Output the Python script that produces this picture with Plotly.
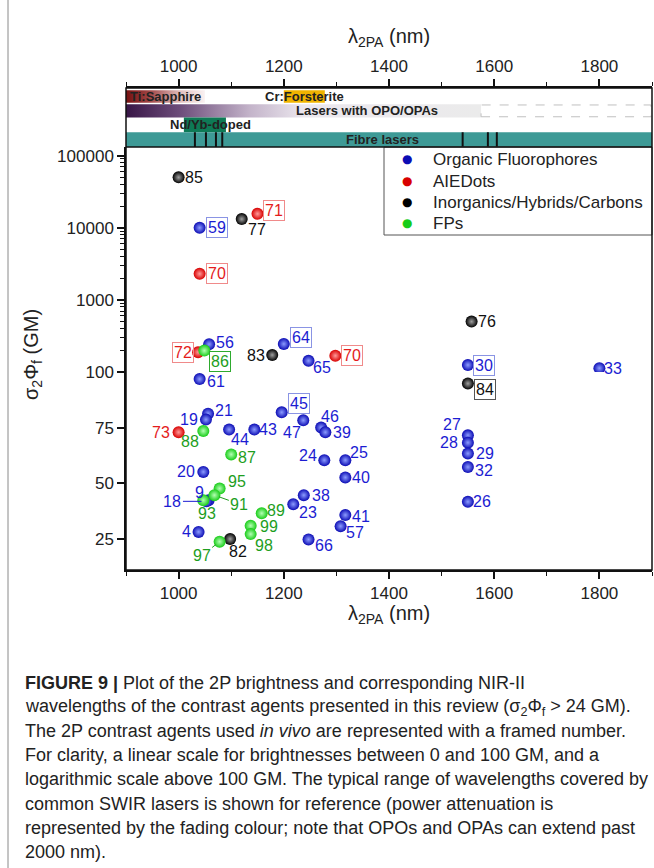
import math
import plotly.graph_objects as go

FONT = "Liberation Sans, Arial, sans-serif"

# ---------------- data ----------------
# organic fluorophores (blue)
org_ids = ["59", "56", "61", "64", "65", "45", "21", "19", "44", "43", "47", "46", "39",
           "24", "25", "40", "38", "23", "41", "57", "66", "20", "9", "18", "4",
           "27", "28", "29", "32", "26", "30", "33"]
org_nm = [1040, 1058, 1040, 1200, 1247, 1196, 1056, 1052, 1096, 1144, 1237, 1271, 1279,
          1277, 1317, 1317, 1238, 1218, 1317, 1308, 1247, 1047, 1057, 1053, 1038,
          1550, 1550, 1550, 1550, 1550, 1550, 1800]
org_gm = [10000, 243, 97, 245, 143, 82, 81.4, 78.7, 74.2, 74.2, 78.4, 75.1, 73,
          60.4, 60.4, 52.6, 44.6, 40.5, 35.6, 30.6, 24.6, 55.1, 42.3, 41.8, 28,
          71.6, 68.3, 63.4, 57.3, 41.6, 125, 113]
org_vivo = ["59", "64", "45", "30"]

# AIEDots (red)
aie_ids = ["71", "70", "72", "70", "73"]
aie_nm = [1150, 1040, 1037, 1298, 1000]
aie_gm = [15600, 2300, 188, 168, 73]
aie_vivo = ["71", "70", "72"]

# inorganics / hybrids / carbons (black)
inorg_ids = ["85", "77", "83", "76", "84", "82"]
inorg_nm = [1000, 1120, 1178, 1557, 1550, 1098]
inorg_gm = [50000, 13200, 172, 500, 95, 24.8]
inorg_vivo = ["84"]

# fluorescent proteins (green)
fp_ids = ["86", "88", "87", "95", "91", "93", "89", "99", "98", "97"]
fp_nm = [1049, 1047, 1100, 1078, 1068, 1047, 1158, 1137, 1137, 1078]
fp_gm = [198, 73.6, 63, 47.6, 44.6, 42.3, 36.4, 30.8, 27, 23.6]
fp_vivo = ["86"]

# laser ranges (nm)
ti_sapphire = [900, 1050]
cr_forsterite = [1200, 1278]
opo_opa = [900, 1575]
opo_opa_ext = [1575, 1900]
nd_yb = [1010, 1090]
fibre = [900, 1900]
fibre_lines = [1031, 1052, 1071, 1083, 1540, 1588, 1605]

x_ticks = [1000, 1200, 1400, 1600, 1800]

# ---------------- label placement (pixel offsets, dy down) ----------------
org_offsets = [(17, 0), (16, -2), (16, 2), (17, -6), (13, 7), (17, -9), (16, -3), (-17, 0),
               (11, 10), (14, 0), (-11, 12), (9, -11), (17, 0), (-16, -5), (14, -8), (16, 0),
               (17, 0), (15, 8), (16, 1), (14, 6), (15, 6), (-17, 0), (-9, -8), (-34, 0),
               (-12, 0), (-16, -11), (-19, 0), (17, 0), (16, 3), (14, 0), (16, 0), (14, 0)]
aie_offsets = [(16, -3), (17, 0), (-15, 0), (17, 0), (-18, 0)]
inorg_offsets = [(15, 0), (15, 10), (-16, 0), (15, 0), (17, 6), (8, 13)]
fp_offsets = [(16, 11), (-13, 11), (16, 3), (17, -7), (25, 9), (4, 13), (14, -3), (18, 1),
              (13, 11), (-18, 14)]
arrow_labels = {"18", "91", "97"}

# ---------------- geometry ----------------
W, H = 654, 868
L, R, T, B = 126, 2, 88, 298
PW = W - L - R
PH = H - T - B


def px_x(px):
    return (px - L) / PW


def px_y(py):
    return (H - B - py) / PH


d1 = px_y(372)   # 100 GM boundary
d2 = px_y(147)   # bottom of the laser band strip

groups = [
    dict(name="Organic Fluorophores", ids=org_ids, nm=org_nm, gm=org_gm, vivo=org_vivo,
         off=org_offsets, color="#0c0cb4", grad="#8c9cff", text="#1c1cd2", frame="#8a94e4"),
    dict(name="AIEDots", ids=aie_ids, nm=aie_nm, gm=aie_gm, vivo=aie_vivo,
         off=aie_offsets, color="#d80000", grad="#ff9a9a", text="#e41c1c", frame="#f08a8a"),
    dict(name="Inorganics/Hybrids/Carbons", ids=inorg_ids, nm=inorg_nm, gm=inorg_gm,
         vivo=inorg_vivo, off=inorg_offsets, color="#000000", grad="#a0a0a0",
         text="#111111", frame="#555555"),
    dict(name="FPs", ids=fp_ids, nm=fp_nm, gm=fp_gm, vivo=fp_vivo,
         off=fp_offsets, color="#18cc18", grad="#b4ffb4", text="#1e9e1e", frame="#2eaa2e"),
]

fig = go.Figure()
annotations = []

for g in groups:
    lin = [i for i, v in enumerate(g["gm"]) if v <= 100]
    lg = [i for i, v in enumerate(g["gm"]) if v > 100]
    marker = dict(size=12, color=g["color"], line=dict(width=0),
                  gradient=dict(type="radial", color=g["grad"]))
    fig.add_trace(go.Scatter(x=[g["nm"][i] for i in lin], y=[g["gm"][i] for i in lin],
                             xaxis="x", yaxis="y", mode="markers", marker=marker,
                             name=g["name"], showlegend=False, hoverinfo="x+y"))
    fig.add_trace(go.Scatter(x=[g["nm"][i] for i in lg], y=[g["gm"][i] for i in lg],
                             xaxis="x", yaxis="y2", mode="markers", marker=marker,
                             name=g["name"], showlegend=False, hoverinfo="x+y"))
    for i, lab in enumerate(g["ids"]):
        dx, dy = g["off"][i]
        v = g["gm"][i]
        if v <= 100:
            yref, yv = "y", v
        else:
            yref, yv = "y2", math.log10(v)
        ann = dict(x=g["nm"][i], y=yv, xref="x", yref=yref, text=lab,
                   font=dict(family=FONT, size=16, color=g["text"]))
        if lab in g["vivo"]:
            ann.update(bordercolor=g["frame"], borderwidth=1, borderpad=1)
        if lab in arrow_labels:
            ann.update(showarrow=True, arrowhead=0, arrowwidth=1, arrowcolor=g["text"],
                       ax=dx, ay=dy, standoff=5)
        else:
            ann.update(showarrow=False, xshift=dx, yshift=-dy)
        annotations.append(ann)

# ---------------- laser band strip (top axis x2 / strip axis y3) ----------------
rows = {"ti": (3, 3.85), "opo": (2, 2.9), "nd": (1, 2), "fibre": (0, 1)}


def band_trace(xr, yr, scale):
    return go.Scatter(x=[xr[0], xr[1], xr[1], xr[0], xr[0]],
                      y=[yr[0], yr[0], yr[1], yr[1], yr[0]],
                      xaxis="x2", yaxis="y3", mode="lines", line=dict(width=0),
                      fill="toself", fillgradient=dict(type="horizontal", colorscale=scale),
                      hoverinfo="skip", showlegend=False)


fig.add_trace(band_trace(ti_sapphire, rows["ti"],
                         [[0, "#761010"], [0.3, "#a04646"], [0.7, "#e2c0c0"], [1, "#faf2f2"]]))
fig.add_trace(band_trace(opo_opa, rows["opo"],
                         [[0, "#381646"], [0.15, "#6c4c7a"], [0.35, "#c4b4ca"],
                          [0.5, "#ebe7ee"], [1, "#ebebeb"]]))

shapes = [
    dict(type="rect", xref="x2", yref="y3", x0=cr_forsterite[0], x1=cr_forsterite[1],
         y0=rows["ti"][0], y1=rows["ti"][1], fillcolor="#f0b400", line=dict(width=0)),
    dict(type="rect", xref="x2", yref="y3", x0=opo_opa_ext[0], x1=opo_opa_ext[1] - 2,
         y0=rows["opo"][0] + 0.05, y1=rows["opo"][1] - 0.05, fillcolor="rgba(0,0,0,0)",
         line=dict(color="#c0c0c0", width=1, dash="dash")),
    dict(type="rect", xref="x2", yref="y3", x0=nd_yb[0], x1=nd_yb[1],
         y0=rows["nd"][0], y1=rows["nd"][1], fillcolor="#0e7a56", line=dict(width=0)),
    dict(type="rect", xref="x2", yref="y3", x0=fibre[0], x1=fibre[1],
         y0=rows["fibre"][0], y1=rows["fibre"][1], fillcolor="#3e9a96", line=dict(width=0)),
]
for wl in fibre_lines:
    shapes.append(dict(type="line", xref="x2", yref="y3", x0=wl, x1=wl,
                       y0=rows["fibre"][0], y1=rows["fibre"][1],
                       line=dict(color="#111", width=2)))

band_font = dict(family=FONT, size=13, color="#222")
band_labels = [
    ("<b>Ti:Sapphire</b>", ti_sapphire[0], rows["ti"], "left", 2),
    ("<b>Cr:Forsterite</b>", 1240, rows["ti"], "center", 0),
    ("<b>Lasers with OPO/OPAs</b>", 1359, rows["opo"], "center", 0),
    ("<b>Nd/Yb-doped</b>", 1060, rows["nd"], "center", 0),
    ("<b>Fibre lasers</b>", 1388, rows["fibre"], "center", 0),
]
for txt, xv, yr, anc, sh in band_labels:
    annotations.append(dict(x=xv, y=(yr[0] + yr[1]) / 2, xref="x2", yref="y3", text=txt,
                            showarrow=False, xanchor=anc, yanchor="middle", xshift=sh,
                            font=band_font))

# ---------------- legend (drawn by hand to keep the tight spacing) ----------------
legend_rows = [159, 181, 202, 223]
shapes.append(dict(type="rect", xref="paper", yref="paper", x0=px_x(384), x1=1,
                   y0=px_y(235), y1=d2, fillcolor="white",
                   line=dict(color="#555", width=1)))
for g, ry in zip(groups, legend_rows):
    annotations.append(dict(x=px_x(407), y=px_y(ry), xref="paper", yref="paper", text="●",
                            showarrow=False, xanchor="center", yanchor="middle",
                            font=dict(family="DejaVu Sans", size=12, color=g["color"])))
    annotations.append(dict(x=px_x(431), y=px_y(ry), xref="paper", yref="paper",
                            text=g["name"], showarrow=False, xanchor="left", yanchor="middle",
                            font=dict(family=FONT, size=17, color="#222")))

# frame, band separator and page border
shapes += [
    dict(type="rect", xref="paper", yref="paper", x0=0, x1=1, y0=0, y1=1,
         line=dict(color="#111", width=1.5), fillcolor="rgba(0,0,0,0)", layer="above"),
    dict(type="line", xref="paper", yref="paper", x0=0, x1=1, y0=d2, y1=d2,
         line=dict(color="#111", width=1.5), layer="above"),
    dict(type="line", xref="paper", yref="paper", x0=px_x(8), x1=px_x(8),
         y0=px_y(H), y1=px_y(0), line=dict(color="#8a8a8a", width=1)),
]

# axis titles
annotations += [
    dict(x=0.5, y=px_y(614), xref="paper", yref="paper", text="λ<sub>2PA</sub> (nm)",
         showarrow=False, xanchor="center", yanchor="middle",
         font=dict(family=FONT, size=20, color="#222")),
    dict(x=0.5, y=px_y(38), xref="paper", yref="paper", text="λ<sub>2PA</sub> (nm)",
         showarrow=False, xanchor="center", yanchor="middle",
         font=dict(family=FONT, size=20, color="#222")),
    dict(x=px_x(32), y=px_y(355), xref="paper", yref="paper",
         text="σ<sub>2</sub>Φ<sub>f</sub> (GM)", textangle=-90,
         showarrow=False, xanchor="center", yanchor="middle",
         font=dict(family=FONT, size=20, color="#222")),
]

# caption
caption = [
    "<b>FIGURE 9 |</b> Plot of the 2P brightness and corresponding NIR-II",
    "wavelengths of the contrast agents presented in this review (σ<sub>2</sub>Φ<sub>f</sub> &gt; 24 GM).",
    "The 2P contrast agents used <i>in vivo</i> are represented with a framed number.",
    "For clarity, a linear scale for brightnesses between 0 and 100 GM, and a",
    "logarithmic scale above 100 GM. The typical range of wavelengths covered by",
    "common SWIR lasers is shown for reference (power attenuation is",
    "represented by the fading colour; note that OPOs and OPAs can extend past",
    "2000 nm).",
]
for k, line in enumerate(caption):
    annotations.append(dict(x=px_x(23), y=px_y(683 + 24.1 * k), xref="paper", yref="paper",
                            text=line, showarrow=False, xanchor="left", yanchor="middle",
                            font=dict(family=FONT, size=18, color="#222")))

tick_font = dict(family=FONT, size=17, color="#222")
xcommon = dict(range=[900, 1900], tickvals=x_ticks, ticks="outside", ticklen=7, tickwidth=1.5,
               tickcolor="#111", showline=True, linecolor="#111", linewidth=1.5,
               showgrid=False, zeroline=False, tickfont=tick_font, fixedrange=True,
               minor=dict(ticks="outside", ticklen=4, tickwidth=1.2, dtick=100,
                          tickcolor="#111"))

fig.update_layout(
    width=W, height=H,
    margin=dict(l=L, r=R, t=T, b=B),
    paper_bgcolor="white", plot_bgcolor="white",
    font=dict(family=FONT, color="#222"),
    showlegend=False,
    xaxis=dict(anchor="y", domain=[0, 1], **xcommon),
    xaxis2=dict(anchor="y3", domain=[0, 1], side="top", **xcommon),
    yaxis=dict(domain=[0, d1], anchor="x", range=[10.8, 100.2], tickvals=[25, 50, 75, 100],
               ticks="outside", ticklen=7, tickwidth=1.5, tickcolor="#111",
               showline=True, linecolor="#111", linewidth=1.5, showgrid=False,
               zeroline=False, tickfont=tick_font),
    yaxis2=dict(domain=[d1, d2], anchor="x", type="log", range=[2, 5.12],
                tickvals=[1000, 10000, 100000], ticktext=["1000", "10000", "100000"],
                ticks="outside", ticklen=7, tickwidth=1.5, tickcolor="#111",
                showline=True, linecolor="#111", linewidth=1.5, showgrid=False,
                zeroline=False, tickfont=tick_font,
                minor=dict(ticks="outside", ticklen=4, tickwidth=1, dtick="D1",
                           tickcolor="#111")),
    yaxis3=dict(domain=[d2, 1], anchor="x2", range=[0, 4], showticklabels=False,
                showgrid=False, zeroline=False, ticks="", fixedrange=True),
    shapes=shapes,
    annotations=annotations,
)

fig.write_html("out.html", config={"displayModeBar": False},
               post_script="document.body.style.margin='0';")
